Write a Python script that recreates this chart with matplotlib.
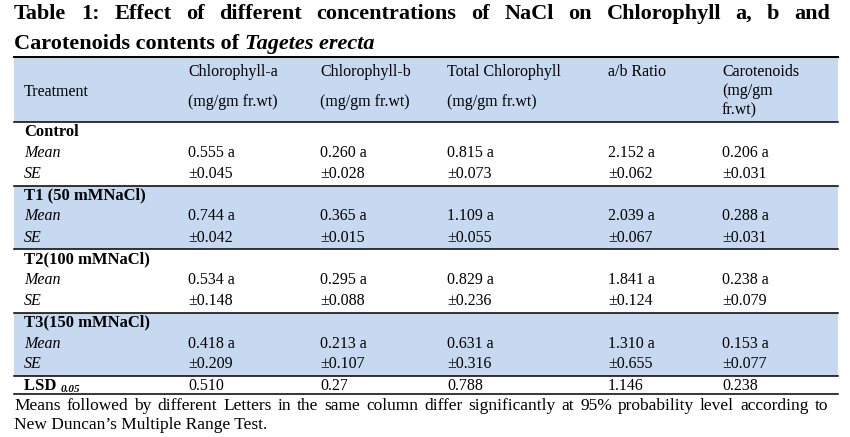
import matplotlib.pyplot as plt
from matplotlib.patches import Rectangle

plt.rcParams['font.family'] = ['Liberation Serif', 'DejaVu Serif']

# table contents
columns = ["Chlorophyll-a", "Chlorophyll-b", "Total Chlorophyll", "a/b Ratio", "Carotenoids"]
units = ["(mg/gm fr.wt)", "(mg/gm fr.wt)", "(mg/gm fr.wt)", "", ""]
treatments = ["Control", "T1 (50 mMNaCl)", "T2(100 mMNaCl)", "T3(150 mMNaCl)"]
means = [
    ["0.555 a", "0.260 a", "0.815 a", "2.152 a", "0.206 a"],
    ["0.744 a", "0.365 a", "1.109 a", "2.039 a", "0.288 a"],
    ["0.534 a", "0.295 a", "0.829 a", "1.841 a", "0.238 a"],
    ["0.418 a", "0.213 a", "0.631 a", "1.310 a", "0.153 a"],
]
ses = [
    ["0.045", "0.028", "0.073", "0.062", "0.031"],
    ["0.042", "0.015", "0.055", "0.067", "0.031"],
    ["0.148", "0.088", "0.236", "0.124", "0.079"],
    ["0.209", "0.107", "0.316", "0.655", "0.077"],
]
lsd = ["0.510", "0.27", "0.788", "1.146", "0.238"]
shaded = [False, True, False, True]

title1 = "Table 1: Effect of different concentrations of NaCl on Chlorophyll a, b and"
note1 = "Means followed by different Letters in the same column differ significantly at 95% probability level according to"
note2 = "New Duncan\u2019s Multiple Range Test."

W, H = 850, 437
fig = plt.figure(figsize=(W / 100, H / 100), dpi=100)
ax = fig.add_axes([0, 0, 1, 1])
ax.set_xlim(0, W)
ax.set_ylim(H, 0)
ax.axis('off')

blue = '#c6d9f1'
x0, x1 = 14, 838
col_x = [188, 320, 447, 608, 722]
fs = 11.5
tfs = 16
renderer = fig.canvas.get_renderer()


def justify(words, y, left, right, **kw):
    texts = [ax.text(0, y, w, va='center', **kw) for w in words]
    widths = [t.get_window_extent(renderer).width for t in texts]
    gap = (right - left - sum(widths)) / (len(words) - 1)
    x = left
    for t, w in zip(texts, widths):
        t.set_x(x)
        x += w + gap


# title
justify(title1.split(), 14, x0, 830, fontsize=tfs, fontweight='bold')
t = ax.text(x0, 44, "Carotenoids contents of ", fontsize=tfs, fontweight='bold', va='center')
bb = t.get_window_extent(renderer)
ax.text(x0 + bb.width, 44, "Tagetes erecta", fontsize=tfs, fontweight='bold',
        fontstyle='italic', va='center')

# header band
ax.add_patch(Rectangle((x0, 57), x1 - x0, 65, color=blue, lw=0))
ax.text(24, 92, "Treatment", fontsize=fs, va='center')
for cx, c, u in zip(col_x, columns, units):
    ax.text(cx, 72, c, fontsize=fs, va='center')
    if u:
        ax.text(cx, 102, u, fontsize=fs, va='center')
ax.text(col_x[4], 91, "(mg/gm", fontsize=fs, va='center')
ax.text(col_x[4], 110, "fr.wt)", fontsize=fs, va='center')

# body
step = 63.5
for i, name in enumerate(treatments):
    top = 122 + i * step
    if shaded[i]:
        ax.add_patch(Rectangle((x0, top), x1 - x0, step, color=blue, lw=0))
    ax.text(24, top + 10, name, fontsize=fs + 0.5, fontweight='bold', va='center')
    ax.text(24, top + 31, "Mean", fontsize=fs, fontstyle='italic', va='center')
    ax.text(24, top + 52, "SE", fontsize=fs, fontstyle='italic', va='center')
    for j, cx in enumerate(col_x):
        ax.text(cx, top + 31, means[i][j], fontsize=fs, va='center')
        ax.text(cx, top + 52, "\u00b1" + ses[i][j], fontsize=fs, va='center')
    ax.plot([x0, x1], [top, top], color='black', lw=1.1)

lsd_top = 122 + 4 * step
ax.plot([x0, x1], [lsd_top, lsd_top], color='black', lw=1.1)
t = ax.text(24, 386, "LSD ", fontsize=fs + 0.5, fontweight='bold', va='center')
bb = t.get_window_extent(renderer)
ax.text(24 + bb.width, 390, "0.05", fontsize=8, fontstyle='italic', fontweight='bold', va='center')
for cx, v in zip(col_x, lsd):
    ax.text(cx, 386, v, fontsize=fs, va='center')
ax.plot([x0, x1], [394, 394], color='black', lw=1.1)
ax.plot([x0, x1], [57, 57], color='black', lw=1.4)

# footnote
justify(note1.split(), 406, x0, 828, fontsize=12.5)
ax.text(x0, 425, note2, fontsize=12.5, va='center')

fig.savefig("out.png", dpi=100)
